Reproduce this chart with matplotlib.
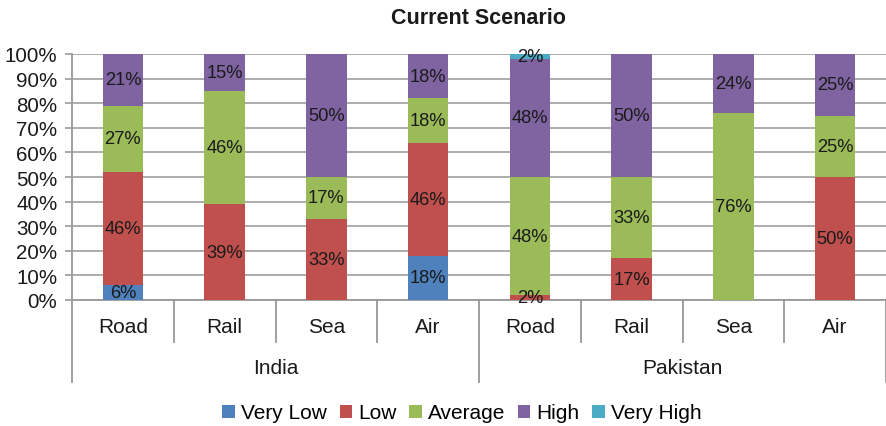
import numpy as np
import matplotlib
matplotlib.use("Agg")
import matplotlib.pyplot as plt
import matplotlib.transforms as mtransforms
from matplotlib.patches import Patch

plt.rcParams['font.family'] = ['Liberation Sans', 'DejaVu Sans']

modes = ["Road", "Rail", "Sea", "Air", "Road", "Rail", "Sea", "Air"]
countries = ["India", "Pakistan"]
levels = ["Very Low", "Low", "Average", "High", "Very High"]

very_low = [6, 0, 0, 18, 0, 0, 0, 0]
low = [46, 39, 33, 46, 2, 17, 0, 50]
average = [27, 46, 17, 18, 48, 33, 76, 25]
high = [21, 15, 50, 18, 48, 50, 24, 25]
very_high = [0, 0, 0, 0, 2, 0, 0, 0]

colors = ["#4F81BD", "#C0504D", "#9BBB59", "#8064A2", "#4BACC6"]

series = [very_low, low, average, high, very_high]

fig = plt.figure(figsize=(8.86, 4.27), dpi=100)
ax = fig.add_axes([72/886, 1 - 301/427, 814/886, 246/427])

x = np.arange(len(modes))
bottom = np.zeros(len(modes))
for vals, col in zip(series, colors):
    vals = np.array(vals, dtype=float)
    ax.bar(x, vals, width=0.4, bottom=bottom, color=col, zorder=3)
    for xi, b, v in zip(x, bottom, vals):
        if v > 0:
            ax.text(xi, b + v / 2, f"{int(v)}%", ha="center", va="center",
                    fontsize=13.2, color="#1a1a1a", zorder=4)
    bottom += vals

ax.set_xlim(-0.5, len(modes) - 0.5)
ax.set_ylim(0, 100)
ax.set_yticks(np.arange(0, 101, 10))
ax.set_yticklabels([f"{v}%" for v in range(0, 101, 10)])
ax.tick_params(axis="y", length=5, width=1.2, color="#999999", pad=5.5,
               labelsize=14.8, labelcolor="#1a1a1a")
ax.tick_params(axis="x", length=0, labelbottom=False)
ax.grid(axis="y", color="#a6a6a6", linewidth=1.3, zorder=0)

for s in ["top", "right"]:
    ax.spines[s].set_visible(False)
ax.spines["left"].set_color("#999999")
ax.spines["left"].set_linewidth(1.3)
ax.spines["bottom"].set_color("#999999")
ax.spines["bottom"].set_linewidth(1.3)

# multi-level category axis below the bars
trans = mtransforms.blended_transform_factory(ax.transData, ax.transAxes)
px = 1 / 246
for i in range(len(modes) + 1):
    xe = i - 0.5
    depth = 82 * px if i % 4 == 0 else 42 * px
    ax.plot([xe, xe], [0, -depth], transform=trans, color="#999999",
            lw=1.3, clip_on=False)
for xi, m in zip(x, modes):
    ax.text(xi, -27 * px, m, transform=trans, ha="center", va="center",
            fontsize=15, color="#1a1a1a")
for gi, c in enumerate(countries):
    ax.text(gi * 4 + 1.5, -68 * px, c, transform=trans, ha="center",
            va="center", fontsize=15, color="#1a1a1a")

fig.text(478/886, 1 - 18/427, "Current Scenario", ha="center", va="center",
         fontsize=15.5, fontweight="bold", color="#1a1a1a")

handles = [Patch(facecolor=c, label=l) for c, l in zip(colors, levels)]
fig.legend(handles=handles, loc="center", bbox_to_anchor=(462/886, 1 - 414/427),
           ncol=5, frameon=False, fontsize=15, handlelength=0.6,
           handleheight=0.6, handletextpad=0.3, columnspacing=0.6)

fig.savefig("out.png", dpi=100)
